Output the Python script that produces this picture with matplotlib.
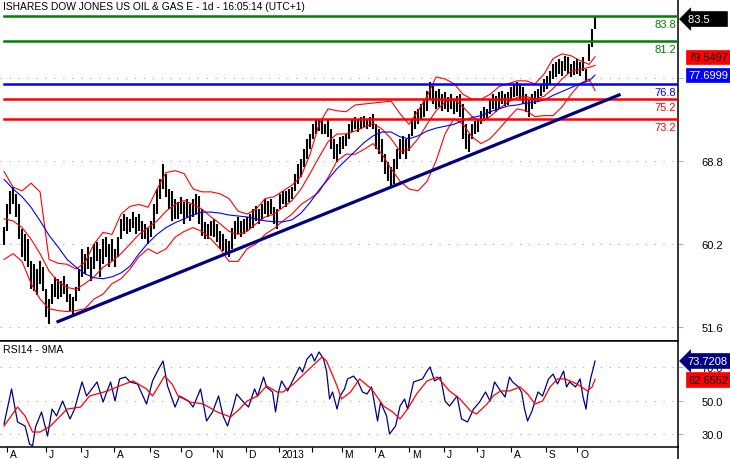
import matplotlib
matplotlib.use("Agg")
import matplotlib.pyplot as plt
import matplotlib.transforms as mtransforms
from matplotlib.lines import Line2D
import numpy as np

plt.rcParams['font.family'] = ['Liberation Sans', 'DejaVu Sans']

TITLE = "ISHARES DOW JONES US OIL & GAS E - 1d - 16:05:14 (UTC+1)"

# price bars, one every second session (high / low)
bar_high = [62.0, 64.3, 65.7, 66.1, 65.4, 64.3, 61.8, 61.2, 60.7, 58.4,
            58.1, 57.6, 58.4, 57.8, 55.5, 54.5, 56.1, 56.8, 56.6, 56.4,
            56.9, 56.1, 55.0, 54.7, 55.7, 57.6, 59.7, 59.2, 59.9, 58.9,
            60.2, 60.4, 59.7, 60.7, 60.9, 60.2, 60.7, 59.7, 60.9, 62.8,
            63.3, 63.0, 62.8, 63.5, 63.0, 63.3, 62.6, 62.3, 61.9, 62.6,
            64.3, 65.9, 66.9, 68.5, 67.5, 65.9, 65.7, 64.9, 64.5, 65.1,
            64.5, 64.9, 64.3, 64.9, 65.4, 65.2, 63.8, 62.5, 62.3, 62.6,
            62.8, 62.3, 61.5, 61.2, 60.7, 60.5, 61.9, 62.6, 63.0, 62.6,
            62.8, 63.0, 63.3, 63.8, 64.1, 63.8, 64.3, 64.9, 64.7, 64.9,
            64.0, 63.8, 65.4, 65.7, 65.7, 65.9, 66.1, 67.5, 68.5, 69.0,
            70.0, 71.1, 71.6, 72.6, 73.2, 73.0, 73.2, 72.6, 73.0, 72.1,
            71.1, 70.6, 71.3, 71.4, 71.6, 72.6, 73.2, 73.4, 73.2, 73.4,
            73.5, 73.2, 73.4, 73.7, 72.6, 72.1, 71.1, 69.5, 68.7, 68.2,
            69.0, 70.0, 71.1, 71.4, 71.1, 71.6, 73.2, 74.0, 74.2, 74.7,
            75.2, 76.1, 77.0, 76.6, 76.1, 76.3, 75.7, 75.9, 75.4, 75.7,
            75.2, 75.5, 75.7, 74.7, 72.6, 71.6, 72.6, 72.9, 73.2, 74.0,
            74.4, 74.2, 75.2, 75.7, 75.5, 75.9, 76.1, 75.7, 75.9, 76.5,
            76.8, 77.0, 76.8, 76.5, 75.7, 75.2, 75.7, 76.1, 76.3, 76.8,
            77.3, 77.6, 78.1, 78.8, 79.1, 79.4, 79.2, 79.7, 79.6, 78.8,
            79.2, 79.4, 79.1, 79.6, 78.3, 80.9, 82.5, 83.7]
bar_low = [60.1, 61.5, 63.3, 64.3, 63.0, 60.7, 58.9, 58.4, 57.8, 55.5,
           55.3, 54.9, 56.1, 55.3, 52.6, 51.9, 54.0, 54.7, 54.5, 54.7,
           55.0, 54.2, 53.3, 52.7, 54.3, 55.3, 56.8, 57.1, 57.6, 56.4,
           57.6, 58.4, 56.8, 58.1, 58.9, 57.8, 58.4, 57.8, 58.9, 60.7,
           61.5, 61.2, 61.4, 61.9, 61.2, 61.5, 60.7, 60.7, 60.2, 60.9,
           61.8, 63.3, 64.9, 65.9, 65.1, 63.8, 62.6, 62.8, 62.8, 63.3,
           62.3, 63.0, 62.6, 63.0, 63.3, 62.3, 61.0, 60.7, 60.7, 61.0,
           60.9, 60.4, 59.7, 59.5, 59.2, 58.9, 59.7, 60.7, 61.2, 60.9,
           61.2, 61.5, 61.8, 61.9, 62.6, 62.3, 62.8, 63.3, 63.0, 63.3,
           62.3, 61.8, 63.8, 64.3, 64.0, 64.6, 64.9, 65.7, 66.4, 67.1,
           68.2, 69.0, 70.0, 71.1, 71.6, 71.9, 71.6, 71.6, 71.3, 70.0,
           69.0, 68.7, 69.5, 70.0, 70.3, 71.1, 71.8, 72.1, 71.8, 72.1,
           72.3, 72.1, 72.3, 72.1, 70.0, 69.5, 68.7, 67.5, 66.7, 66.2,
           66.4, 68.0, 69.0, 69.5, 69.0, 69.8, 71.4, 72.1, 72.6, 73.2,
           73.4, 74.0, 75.2, 74.7, 74.2, 74.4, 74.0, 74.2, 73.9, 74.2,
           73.7, 73.9, 73.4, 71.1, 70.0, 69.7, 71.1, 71.6, 71.8, 72.6,
           72.9, 73.2, 73.7, 74.2, 73.9, 74.2, 74.7, 74.5, 74.6, 75.0,
           75.4, 75.5, 75.2, 74.7, 73.9, 73.4, 74.2, 74.7, 75.0, 75.5,
           75.9, 76.3, 76.8, 77.3, 77.5, 77.8, 77.6, 78.1, 77.8, 77.5,
           77.7, 77.8, 77.6, 78.1, 77.0, 79.2, 80.6, 82.5]
bar_day = np.arange(len(bar_high)) * 2

# bollinger bands and moving average, sampled every 6 sessions
band_day = list(range(0, 391, 6)) + [394]
bb_upper = [67.7, 66.1, 65.7, 66.5, 65.6, 58.6, 58.2, 58.1, 57.6, 58.3,
            60.2, 61.4, 61.2, 63.3, 64.1, 64.3, 64.0, 65.9, 67.6, 67.8,
            67.5, 65.9, 65.6, 65.6, 65.4, 64.9, 63.6, 63.3, 63.8, 64.9,
            65.1, 65.7, 66.3, 67.2, 69.5, 72.6, 74.2, 74.0, 73.9, 74.6,
            74.7, 74.8, 74.9, 75.0, 73.7, 72.6, 74.0, 75.5, 77.5, 77.3,
            76.8, 75.7, 75.2, 75.2, 75.7, 76.5, 76.8, 77.1, 77.1, 76.8,
            77.8, 79.4, 79.9, 79.7, 79.2, 78.8, 79.6]
bb_mid = [62.8, 62.6, 61.9, 60.7, 59.2, 57.4, 56.3, 55.7, 55.5, 56.1,
          56.8, 57.8, 58.4, 59.2, 60.2, 61.2, 61.9, 62.6, 63.6, 64.3,
          64.7, 64.3, 63.8, 63.0, 62.3, 61.5, 61.2, 61.5, 62.3, 63.0,
          63.3, 64.0, 64.7, 65.9, 67.5, 69.2, 70.8, 71.6, 71.6, 71.9,
          72.3, 72.7, 72.1, 71.1, 69.8, 70.0, 71.1, 72.6, 74.0, 74.9,
          75.2, 74.4, 73.4, 72.9, 73.4, 74.2, 74.9, 75.4, 75.5, 75.2,
          75.5, 76.3, 77.3, 78.1, 78.3, 78.5, 78.7]
bb_lower = [58.6, 59.2, 58.4, 56.1, 54.5, 53.5, 53.3, 53.2, 53.3, 53.5,
            54.5, 55.0, 56.1, 56.6, 57.6, 58.9, 59.7, 59.2, 59.7, 60.9,
            61.5, 61.9, 61.5, 60.7, 59.7, 58.4, 58.4, 59.7, 60.2, 61.2,
            61.8, 62.6, 63.3, 64.3, 64.9, 65.6, 67.1, 68.8, 69.5, 69.5,
            70.0, 70.6, 69.5, 68.0, 66.7, 65.9, 65.7, 66.7, 68.8, 71.6,
            73.2, 72.6, 71.3, 70.6, 71.1, 72.1, 73.2, 74.2, 74.0, 73.4,
            73.5, 73.5, 74.4, 75.7, 76.8, 77.3, 76.1]
ma_blue = [66.9, 65.9, 65.1, 64.0, 62.6, 61.1, 59.9, 58.6, 57.8, 57.1,
           56.7, 56.6, 56.8, 57.2, 57.9, 59.2, 60.3, 61.2, 61.9, 62.4,
           62.8, 63.2, 63.5, 63.5, 63.4, 63.2, 63.1, 63.0, 62.8, 62.6,
           62.5, 62.5, 62.7, 63.4, 64.5, 65.8, 66.9, 68.0, 68.9, 69.8,
           70.7, 71.4, 71.8, 71.8, 71.3, 71.1, 71.4, 71.9, 72.2, 72.4,
           72.6, 73.0, 73.3, 73.5, 73.9, 74.2, 74.5, 74.6, 74.8, 74.9,
           75.1, 75.6, 76.0, 76.4, 76.8, 77.1, 77.7]

# RSI 14 and its 9 period average
rsi_day = [0, 5, 9, 14, 17, 19, 21, 25, 29, 32, 35, 39, 44, 47, 52, 55, 62, 66, 71, 74,
           77, 81, 84, 89, 95, 99, 103, 106, 109, 114, 117, 123, 126, 131, 135, 139, 143, 146, 149, 153,
           155, 159, 163, 167, 169, 173, 175, 179, 181, 183, 185, 189, 193, 197, 199, 202, 205, 207, 210, 213,
           215, 217, 219, 222, 224, 227, 229, 233, 236, 239, 242, 245, 249, 251, 255, 257, 261, 264, 267, 269,
           273, 279, 282, 284, 287, 291, 294, 297, 302, 305, 309, 313, 317, 321, 324, 327, 331, 334, 337, 339,
           343, 345, 347, 349, 352, 354, 356, 359, 363, 366, 369, 373, 375, 377, 381, 384, 386, 388, 389, 391,
           393, 394]
rsi_val = [36.1, 57.0, 37.3, 34.9, 24.1, 23.0, 34.3, 43.3, 28.9, 45.0, 40.9, 49.8, 39.1, 45.0, 61.2, 52.8, 61.2, 49.2, 61.2, 49.8,
           63.0, 64.1, 61.2, 60.0, 48.0, 61.8, 68.9, 73.7, 58.8, 46.2, 52.8, 49.8, 46.2, 57.0, 37.9, 43.3, 52.8, 40.9, 34.9, 46.8,
           54.0, 49.8, 46.2, 57.0, 52.8, 64.1, 58.2, 55.2, 43.3, 55.2, 61.8, 55.8, 63.0, 70.1, 67.1, 74.9, 77.9, 73.7, 79.1, 74.9,
           67.7, 51.0, 55.2, 45.0, 52.8, 57.0, 63.0, 64.7, 61.2, 55.2, 54.0, 58.2, 37.9, 49.2, 40.9, 30.1, 34.9, 46.8, 51.0, 45.0,
           61.2, 63.0, 67.7, 70.1, 61.8, 64.1, 49.8, 46.8, 52.8, 39.1, 37.3, 45.0, 49.2, 55.2, 49.8, 61.2, 55.8, 52.2, 64.1, 61.2,
           58.2, 55.2, 45.0, 37.9, 43.9, 49.8, 55.2, 52.8, 63.0, 65.9, 60.0, 67.7, 58.2, 61.2, 58.2, 63.0, 52.2, 45.0, 52.8, 63.0,
           70.1, 73.7]
rsi_ma_day = [0, 9, 14, 19, 24, 31, 42, 51, 57, 69, 77, 86, 95, 99, 107, 112, 116, 124, 133, 142,
              151, 157, 162, 169, 175, 182, 186, 193, 202, 212, 215, 222, 225, 231, 237, 245, 253, 259, 264, 269,
              275, 282, 289, 297, 304, 311, 315, 322, 326, 331, 337, 344, 349, 354, 359, 364, 369, 374, 379, 384,
              389, 392, 394]
rsi_ma_val = [34.9, 46.2, 40.9, 31.3, 31.3, 34.9, 45.0, 46.2, 52.8, 55.8, 58.8, 61.8, 57.0, 52.8, 64.7, 60.0, 52.8, 49.2, 48.0, 43.3,
              40.3, 45.0, 49.8, 52.8, 58.8, 55.2, 55.2, 60.0, 67.7, 76.1, 73.7, 58.8, 51.0, 55.2, 63.0, 57.0, 46.8, 43.3, 39.1, 45.0,
              54.0, 61.8, 64.1, 55.8, 51.0, 43.9, 42.1, 48.0, 52.8, 55.8, 55.8, 58.2, 54.0, 48.0, 49.8, 58.2, 63.0, 63.0, 61.2, 58.8,
              55.8, 58.2, 62.7]

trend_day = [35, 411]
trend_price = [52.1, 75.7]

levels = [83.8, 81.2, 76.8, 75.2, 73.2]
level_colors = ['#008000', '#008000', '#0000ff', '#ff0000', '#ff0000']

price_ticks = [51.6, 60.2, 68.8, 77.4]
price_tick_lbl = ['51.6', '60.2', '68.8', '']   # 77.4 sits behind the MA tag
rsi_ticks = [30.0, 50.0, 70.0]
rsi_tick_lbl = ['30.0', '50.0', '70.0']

month_day = [2, 28, 51, 73, 97, 118, 139, 161, 183, 205, 225, 247, 270, 293, 315, 338, 361, 382]
month_lbl = ['A', 'J', 'J', 'A', 'S', 'O', 'N', 'D', '2013', '', 'M', 'A', 'M', 'J', 'J', 'A', 'S', 'O']

last_close = 83.5
last_upper = 79.5497
last_ma = 77.6999
last_rsi = 73.7208
last_rsi_ma = 62.6552


def tag(ax, value, text, fc, tc, arrow=False):
    style = 'larrow,pad=0.22' if arrow else 'square,pad=0.2'
    ax.annotate(text, xy=(1, value), xycoords=('axes fraction', 'data'),
                xytext=(7 if arrow else 7.5, 0), textcoords='offset points',
                ha='left', va='center', fontsize=8, color=tc, annotation_clip=False,
                zorder=10, bbox=dict(boxstyle=style, fc=fc, ec=fc, lw=0.5))


def style_axis(ax, ticks, labels):
    ax.yaxis.tick_right()
    ax.set_yticks(ticks)
    ax.set_yticklabels(labels)
    ax.tick_params(axis='y', length=3.6, width=0.8, color='#b0b0b0', pad=13.5, labelsize=8)
    ax.grid(axis='y', color='#b4b4b4', linestyle=(0, (1.3, 7.3)), linewidth=0.75)
    ax.spines['left'].set_visible(False)
    for s in ('right', 'bottom', 'top'):
        ax.spines[s].set_color('black')
        ax.spines[s].set_linewidth(1.1)


def main():
    fig = plt.figure(figsize=(7.3, 4.6), dpi=100)
    ax = fig.add_axes([0, 118 / 460, 678 / 730, 342 / 460])
    ax2 = fig.add_axes([0, 12 / 460, 678 / 730, 106 / 460], sharex=ax)

    # price panel
    ax.vlines(bar_day, bar_low, bar_high, color='black', linewidth=1.5, zorder=2)
    ax.plot(band_day, bb_upper, color='red', linewidth=0.8, zorder=3)
    ax.plot(band_day, bb_mid, color='red', linewidth=0.8, zorder=3)
    ax.plot(band_day, bb_lower, color='red', linewidth=0.8, zorder=3)
    ax.plot(band_day, ma_blue, color='#0000ff', linewidth=0.8, zorder=3)
    for lv, c in zip(levels, level_colors):
        ax.axhline(lv, xmin=4 / 678, xmax=1, color=c, linewidth=1.8, zorder=4)
        ax.annotate('%.1f' % lv, xy=(1, lv), xycoords=('axes fraction', 'data'),
                    xytext=(-1.5, -2.2), textcoords='offset points', ha='right', va='top',
                    fontsize=8, color=c)
    ax.plot(trend_day, trend_price, color='#000080', linewidth=2.3, zorder=5,
            solid_capstyle='butt')

    ax.set_xlim(-2.7, 449.3)
    ax.set_ylim(50.15, 85.58)
    style_axis(ax, price_ticks, price_tick_lbl)
    ax.spines['top'].set_visible(False)
    ax.tick_params(axis='x', bottom=False, labelbottom=False)
    ax.text(0.004, 0.98, TITLE, transform=ax.transAxes, ha='left', va='center', fontsize=7.4)

    tag(ax, last_close, '83.5     ', 'black', 'white', arrow=True)
    tag(ax, last_upper, '%.4f' % last_upper, 'red', 'black')
    tag(ax, last_ma, '%.4f' % last_ma, '#0000ff', 'white')

    # RSI panel
    ax2.plot(rsi_day, rsi_val, color='#000080', linewidth=0.9, zorder=3)
    ax2.plot(rsi_ma_day, rsi_ma_val, color='red', linewidth=0.9, zorder=3)
    ax2.set_ylim(22.36, 85.64)
    style_axis(ax2, rsi_ticks, rsi_tick_lbl)
    ax2.text(0.004, 0.925, 'RSI14 - 9MA', transform=ax2.transAxes, ha='left', va='center', fontsize=7.6)
    tag(ax2, last_rsi, '%.4f' % last_rsi, '#000080', 'white', arrow=True)
    tag(ax2, last_rsi_ma, '%.4f' % last_rsi_ma, 'red', 'black')

    ax2.set_xticks(month_day)
    ax2.set_xticklabels(month_lbl)
    ax2.tick_params(axis='x', length=3.6, width=0.8, color='black', pad=-2.5, labelsize=7.4)
    shift = mtransforms.ScaledTranslation(0.03, 0, fig.dpi_scale_trans)
    for lbl in ax2.get_xticklabels():
        lbl.set_horizontalalignment('left')
        lbl.set_transform(lbl.get_transform() + shift)

    # right border runs down to the bottom edge
    fig.add_artist(Line2D([678 / 730, 678 / 730], [0, 12 / 460], color='black', linewidth=1.1))

    fig.savefig("out.png", dpi=100)


if __name__ == "__main__":
    main()
